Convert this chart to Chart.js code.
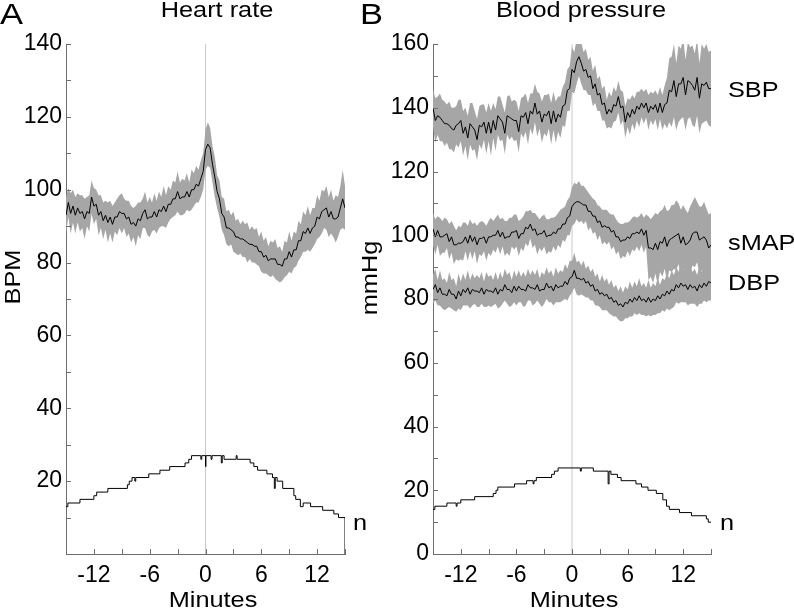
<!DOCTYPE html>
<html>
<head>
<meta charset="utf-8">
<script src="https://cdn.jsdelivr.net/npm/chart.js@4.4.1/dist/chart.umd.min.js"></script>
<style>
  body { margin: 0; background: #fff; }
  #wrap { position: relative; width: 794px; height: 611px; overflow: hidden; }
  canvas { position: absolute; top: 0; }
  #hrChart { left: 0; }
  #bpChart { left: 355px; }
</style>
</head>
<body>
<div id="wrap">
  <canvas id="hrChart" width="390" height="611"></canvas>
  <canvas id="bpChart" width="439" height="611"></canvas>
</div>
<script>
// time grid, minutes relative to event (every 0.25 min)
let minutes = [];
for (let i = 0; i <= 120; i++) minutes.push(-15 + i * 0.25);

// panel A - heart rate mean (BPM)
const heartRate = [
  93, 96.5, 93.5, 95.5, 93, 95, 93.5, 94, 92, 94,
  93.5, 98, 95.5, 96, 93, 94, 91.5, 93, 91, 92.5,
  90.5, 92.5, 92.5, 94, 93.5, 93.5, 92, 92.5, 90.5, 91,
  90, 92, 91.5, 93.5, 94.5, 92, 92.5, 92.5, 94, 92.5,
  94.5, 94, 95.5, 94, 96, 96, 97.5, 97.5, 99.5, 97.5,
  98, 98, 99.5, 98, 100, 100, 101.5, 101, 103, 105,
  111, 112.5, 111.5, 107, 103.5, 99.5, 97.5, 93.5, 92.5, 89.5,
  89.5, 89, 88.5, 87, 87, 86.5, 86.5, 86, 85.5, 85,
  85, 84.5, 84.5, 83, 83, 81.5, 82, 80.5, 81, 81,
  81, 79.5, 79.5, 79, 81, 81, 83, 81.5, 83.5, 83.5,
  86, 86, 88.5, 88, 89.5, 88, 89.5, 90, 92.5, 92,
  94, 94.5, 95, 92.5, 94, 92, 92, 92.5, 95, 97.5,
  95
];
// half width of the grey band
const heartRateSpread = [
  5, 4, 5.5, 4.5, 5, 4, 5, 4.5, 5.5, 4,
  5, 4.5, 5, 4, 5.5, 4.5, 5, 4, 5.5, 4.5,
  5, 4, 5, 4.5, 5.5, 4, 5, 4.5, 5, 4,
  5.5, 4.5, 5, 4, 5, 4.5, 5.5, 4, 5, 4.5,
  5, 4, 5.5, 4.5, 5, 4, 5, 4.5, 5.5, 4.5,
  5, 4.5, 5, 4, 5.5, 4.5, 5, 4.5, 5, 5,
  5.5, 6, 5.5, 5, 5.5, 4.5, 5, 4.5, 5, 4.5,
  5, 4, 5.5, 4.5, 5, 4, 5, 4.5, 5.5, 4,
  5, 4.5, 5, 4, 5.5, 4.5, 5, 4, 5, 4.5,
  5.5, 4.5, 5, 4, 5, 4.5, 5.5, 4.5, 5, 4.5,
  5.5, 4.5, 5.5, 5, 6, 5, 5.5, 5, 6, 5,
  6, 5, 6, 5.5, 6, 5, 6.5, 5.5, 6, 8,
  6
];
// number of subjects (step line), [start minute, n]
const heartRateN = [
  [-15, 13], [-14.8, 14], [-13.5, 15], [-12, 16], [-11.7, 17], [-10.5, 18], [-8.4, 19],
  [-8.2, 20], [-7.9, 21], [-7.6, 20], [-7.5, 21], [-6.1, 22], [-4.9, 23], [-3.85, 24],
  [-2.2, 25], [-1.8, 26], [-1.5, 27], [-0.5, 26], [-0.4, 27], [0, 24], [0.05, 27],
  [0.6, 26], [0.7, 27], [1.7, 25], [1.8, 27], [2, 26], [3.3, 27], [3.4, 26], [4.8, 25],
  [5.2, 24], [5.6, 23], [6.6, 22], [7.2, 21], [7.4, 18], [7.5, 21], [7.7, 20], [8.3, 18],
  [9.5, 16], [9.7, 15], [10.2, 13], [10.5, 14], [11.3, 13], [12.6, 12], [13.8, 11],
  [14.3, 10], [15, 10], [15, 0]
];

// panel B - blood pressure means (mmHg)
const systolic = [
  140, 136, 137.5, 137, 136, 135, 135, 134.5, 133.5, 133,
  134.5, 135, 136, 132, 134, 130.5, 135, 134, 133, 130,
  134.5, 134, 135.5, 132, 135.5, 132, 136, 133, 137.5, 136.5,
  135.5, 132, 137.5, 137, 136.5, 136, 136, 132.5, 137.5, 137,
  138.5, 135, 139, 138, 141.5, 138, 139, 135.5, 138, 137.5,
  139, 135, 139, 135.5, 138, 137, 140.5, 141, 145.5, 146,
  152, 151, 154.5, 156, 154, 151.5, 152, 149.5, 150, 146,
  147.5, 144, 144.5, 141, 141.5, 138, 139.5, 138.5, 141, 140.5,
  143.5, 140, 140.5, 135.5, 138.5, 137, 139.5, 138, 140.5, 139.5,
  141.5, 140, 141.5, 138.5, 140.5, 139.5, 141, 138.5, 141.5, 138.5,
  141, 141.5, 145.5, 145, 148.5, 143.5, 147.5, 147.5, 149.5, 144,
  148.5, 148, 147, 145.5, 149.5, 143, 147.5, 147, 148, 146,
  146
];
const meanArterial = [
  102, 99.5, 101.5, 99.5, 99.5, 100, 100.5, 98, 99.5, 97,
  97, 97.5, 97.5, 98, 99.5, 97.5, 100, 98, 99.5, 97,
  99, 99, 99.5, 97.5, 99.5, 99.5, 100, 100, 101.5, 99.5,
  101, 99, 99.5, 99.5, 101, 101, 101.5, 99, 100.5, 100.5,
  102.5, 102, 103.5, 101.5, 102, 100, 100.5, 100.5, 101.5, 99.5,
  100, 100, 101, 100.5, 102, 102, 103.5, 103.5, 105.5, 106,
  109, 110, 110.5, 110.5, 110, 109.5, 109.5, 107.5, 107.5, 106,
  106, 104, 104.5, 102.5, 103, 102.5, 102.5, 101, 101.5, 99.5,
  99.5, 98, 98.5, 98.5, 99.5, 99, 100.5, 100.5, 101, 100.5,
  102, 100, 101.5, 96, 96, 95.5, 97.5, 95.5, 98, 97.5,
  99.5, 96.5, 98.5, 99, 99.5, 100, 100.5, 97.5, 99.5, 97,
  97.5, 98.5, 100.5, 101, 101, 98.5, 99, 99.5, 98.5, 96,
  97
];
const diastolic = [
  83, 84.5, 82, 83.5, 81.5, 81.5, 81, 83, 81.5, 81.5,
  80, 82.5, 81, 83, 82, 83.5, 81.5, 83, 82.5, 82.5,
  82, 83.5, 81.5, 83, 82.5, 82.5, 82, 83.5, 81.5, 83,
  82.5, 84.5, 83, 83, 82, 84, 82.5, 84, 83, 83,
  82.5, 84.5, 83.5, 83.5, 83, 84.5, 82.5, 83, 83, 85,
  83.5, 84, 82.5, 84.5, 83.5, 84, 84, 85.5, 84.5, 86.5,
  87, 89, 86.5, 86.5, 86, 86.5, 85, 85.5, 84, 84.5,
  82.5, 83, 81.5, 82, 81, 81.5, 80, 80.5, 79, 79.5,
  78, 78.5, 77.5, 79, 78.5, 80, 79, 80.5, 79.5, 81,
  79.5, 80, 79, 80.5, 79, 80, 79.5, 81, 80, 81.5,
  81, 82.5, 81.5, 83, 82.5, 84.5, 83.5, 85, 84, 84.5,
  83, 84.5, 83.5, 84, 82.5, 84.5, 83.5, 85, 84, 85.5,
  85
];
const systolicSpread = [
  6, 7, 6, 7.5, 6.5, 7, 6, 7.5, 6.5, 7,
  6, 7.5, 6.5, 7, 6, 7, 6.5, 7.5, 6, 6.5,
  6, 7, 5.5, 6.5, 6, 7, 5.5, 6.5, 6, 7,
  5.5, 6.5, 6, 7, 5.5, 6.5, 6, 6.5, 5.5, 6.5,
  6, 6.5, 5.5, 6.5, 6, 7, 5.5, 6.5, 6, 6.5,
  5.5, 6.5, 6, 6.5, 5.5, 6.5, 6, 7, 6.5, 7,
  7, 6.5, 7, 6, 6.5, 6, 6.5, 5.5, 6, 5.5,
  6, 5, 5.5, 5, 5.5, 4.5, 5.5, 5, 5.5, 4.5,
  5, 5.5, 4.5, 5, 4.5, 5.5, 4.5, 5, 4.5, 5.5,
  4.5, 5, 4.5, 5.5, 4.5, 5, 4.5, 5.5, 5, 5.5,
  6, 8, 10, 11, 11.5, 10.5, 12, 11, 12.5, 11,
  12, 11, 12.5, 11.5, 12, 11, 12.5, 11.5, 12, 11.5,
  12
];
const meanArterialSpread = [
  5, 5.5, 4.5, 6, 5, 5.5, 4.5, 5.5, 5, 6,
  4.5, 5.5, 5, 6, 4.5, 5.5, 5, 5.5, 4.5, 6,
  5, 5.5, 4.5, 5.5, 5, 6, 4.5, 5.5, 5, 5.5,
  4.5, 5.5, 5, 6, 4.5, 5.5, 5, 5.5, 4.5, 5.5,
  5, 5.5, 4.5, 5.5, 5, 6, 4.5, 5.5, 5, 5.5,
  5, 5.5, 4.5, 5.5, 5, 6, 5, 5.5, 5.5, 6,
  6, 6.5, 5.5, 6.5, 5.5, 6, 5, 6, 5, 5.5,
  5, 5.5, 4.5, 5.5, 5, 5.5, 4.5, 5.5, 5, 5.5,
  4.5, 5.5, 5, 5.5, 4.5, 5.5, 5, 5.5, 4.5, 5.5,
  5, 5.5, 5, 10, 9, 10.5, 9.5, 11, 9.5, 10.5,
  10, 11, 9.5, 10.5, 10, 11, 9.5, 10.5, 10, 11,
  9.5, 10.5, 10, 11, 9.5, 10.5, 10, 11, 10, 10.5,
  10
];
const diastolicSpread = [
  4.5, 5, 4, 5.5, 4.5, 5, 4, 5.5, 4.5, 5,
  4, 5.5, 4.5, 5, 4, 5.5, 4.5, 5, 4, 5,
  4.5, 5, 4, 5.5, 4.5, 5, 4, 5, 4.5, 5.5,
  4, 5, 4.5, 5.5, 4, 5, 4.5, 5, 4, 5.5,
  4.5, 5, 4, 5.5, 4.5, 5, 4, 5.5, 4.5, 5,
  4.5, 5, 4.5, 5.5, 4.5, 5, 4.5, 5.5, 5, 5.5,
  5, 5.5, 5, 5.5, 4.5, 5.5, 4.5, 5, 4.5, 5,
  4.5, 5, 4, 5.5, 4.5, 5, 4.5, 5.5, 4.5, 5,
  4.5, 5.5, 4.5, 5, 4.5, 5.5, 4.5, 5, 4.5, 5.5,
  4.5, 5, 4.5, 5.5, 4.5, 5, 4.5, 5.5, 4.5, 5,
  5, 5.5, 5, 6, 5, 5.5, 5, 6, 5, 5.5,
  5, 6, 5, 5.5, 5, 6, 5, 5.5, 5, 6,
  5.5
];
const bloodPressureN = [
  [-15, 14], [-14.8, 15], [-13.5, 16], [-12.5, 15], [-12.4, 16], [-12, 17], [-10.5, 18],
  [-8.5, 19], [-8.2, 20], [-8, 21], [-6.2, 22], [-4.9, 23], [-4.2, 22], [-4.1, 23],
  [-3.85, 24], [-2.2, 25], [-1.9, 26], [-1.5, 27], [0.9, 26], [1, 27], [2.3, 26],
  [3.9, 22], [4, 26], [4.2, 25], [4.9, 24], [5.3, 23], [6.9, 22], [7.5, 21], [8.2, 20],
  [9.1, 19], [9.8, 17], [10.2, 15], [10.5, 14], [11.6, 13], [12.9, 12], [14.5, 11],
  [14.7, 10], [15, 10]
];

const xTicks = { min: -15, max: 15, step: 3 };
const FONT = '"Liberation Sans", Arial, sans-serif';
const AXIS = '#6e6e6e';
const BAND = '#a6a6a6';

function pts(vals) {
  return minutes.slice(0, vals.length).map((m, i) => ({ x: m, y: vals[i] }));
}
function band(vals, spread, sign) {
  return minutes.slice(0, vals.length).map((m, i) => ({ x: m, y: vals[i] + sign * spread[i] }));
}
function steps(arr) {
  return arr.map(p => ({ x: p[0], y: p[1] }));
}
function meanSet(vals) {
  return { data: pts(vals), borderColor: '#000', borderWidth: 1, pointRadius: 0, order: 0 };
}
function bandSets(vals, spread) {
  return [
    { data: band(vals, spread, 1), borderWidth: 0, pointRadius: 0, backgroundColor: BAND, fill: '+1', order: 2 },
    { data: band(vals, spread, -1), borderWidth: 0, pointRadius: 0, fill: false, order: 2 }
  ];
}

// inward tick marks like the original
const inwardTicks = {
  id: 'inwardTicks',
  afterDatasetsDraw(chart) {
    const { ctx, scales: { x, y } } = chart;
    ctx.save();
    ctx.strokeStyle = AXIS;
    ctx.lineWidth = 1;
    ctx.beginPath();
    x.ticks.forEach(t => {
      const px = Math.round(x.getPixelForValue(t.value)) + 0.5;
      ctx.moveTo(px, y.bottom); ctx.lineTo(px, y.bottom - 5);
    });
    y.ticks.forEach(t => {
      const py = Math.round(y.getPixelForValue(t.value)) + 0.5;
      ctx.moveTo(x.left, py); ctx.lineTo(x.left + 5, py);
    });
    ctx.stroke();
    ctx.restore();
  }
};

// panel letters, titles and side labels (the source font runs a bit wide)
function labelsPlugin(items) {
  return {
    id: 'labels',
    afterDraw(chart) {
      const ctx = chart.ctx;
      ctx.save();
      ctx.fillStyle = '#000';
      ctx.textBaseline = 'alphabetic';
      items.forEach(l => {
        ctx.font = (l.size || 22) + 'px ' + FONT;
        ctx.textAlign = l.align || 'left';
        ctx.save();
        ctx.translate(l.x, l.y);
        if (l.rotate) {
          ctx.rotate(-Math.PI / 2);
          ctx.textAlign = 'center';
        }
        ctx.scale(1.15, 1);
        ctx.fillText(l.text, 0, 0);
        ctx.restore();
      });
      ctx.restore();
    }
  };
}

function makeChart(id, opts) {
  const datasets = [
    ...opts.means.map(meanSet),
    { data: steps(opts.n), borderColor: '#000', borderWidth: 1, pointRadius: 0, stepped: true, order: 0 },
    ...opts.bands.flatMap(b => bandSets(b[0], b[1])),
    { data: [{ x: 0, y: 0 }, { x: 0, y: opts.yMax }], borderColor: '#c8c8c8', borderWidth: 1, pointRadius: 0, order: 3 }
  ];
  return new Chart(document.getElementById(id), {
    type: 'line',
    data: { datasets: datasets },
    options: {
      responsive: false,
      animation: false,
      devicePixelRatio: 1,
      layout: { padding: { top: 44, right: opts.padRight, bottom: 0, left: 0 } },
      plugins: { legend: { display: false }, tooltip: { enabled: false } },
      scales: {
        x: {
          type: 'linear', min: xTicks.min, max: xTicks.max,
          grid: { display: false, drawTicks: false },
          border: { display: true, color: AXIS, width: 1 },
          ticks: {
            stepSize: xTicks.step, autoSkip: false, maxRotation: 0, padding: 8, color: '#000',
            font: { size: 23, family: FONT },
            callback: v => (v % 6 === 0 && Math.abs(v) < 15) ? String(v) : ''
          },
          afterFit: s => { s.height = 57; }
        },
        y: {
          type: 'linear', min: 0, max: opts.yMax,
          grid: { display: false, drawTicks: false },
          border: { display: true, color: AXIS, width: 1 },
          ticks: {
            stepSize: 10, autoSkip: false, padding: 4, color: '#000',
            font: { size: 23, family: FONT },
            callback: v => (v % 20 === 0 && (v > 0 || opts.showZero)) ? String(v) : ''
          },
          afterFit: s => { s.width = opts.yWidth; }
        }
      }
    },
    plugins: [inwardTicks, labelsPlugin(opts.labels)]
  });
}

makeChart('hrChart', {
  yMax: 140, yWidth: 66, padRight: 45, showZero: false,
  means: [heartRate],
  bands: [[heartRate, heartRateSpread]],
  n: heartRateN,
  labels: [
    { text: 'A', x: 0, y: 24, size: 30 },
    { text: 'Heart rate', x: 217, y: 17, align: 'center' },
    { text: 'BPM', x: 20, y: 277, rotate: true },
    { text: 'Minutes', x: 213, y: 607, align: 'center' },
    { text: 'n', x: 353, y: 530 }
  ]
});

makeChart('bpChart', {
  yMax: 160, yWidth: 78, padRight: 83, showZero: true,
  means: [systolic, meanArterial, diastolic],
  bands: [[systolic, systolicSpread], [meanArterial, meanArterialSpread], [diastolic, diastolicSpread]],
  n: bloodPressureN,
  labels: [
    { text: 'B', x: 5, y: 24, size: 30 },
    { text: 'Blood pressure', x: 226, y: 17, align: 'center' },
    { text: 'mmHg', x: 22, y: 278, rotate: true },
    { text: 'Minutes', x: 219, y: 607, align: 'center' },
    { text: 'SBP', x: 373, y: 97 },
    { text: 'sMAP', x: 373, y: 250 },
    { text: 'DBP', x: 373, y: 290 },
    { text: 'n', x: 365, y: 530 }
  ]
});
</script>
</body>
</html>
